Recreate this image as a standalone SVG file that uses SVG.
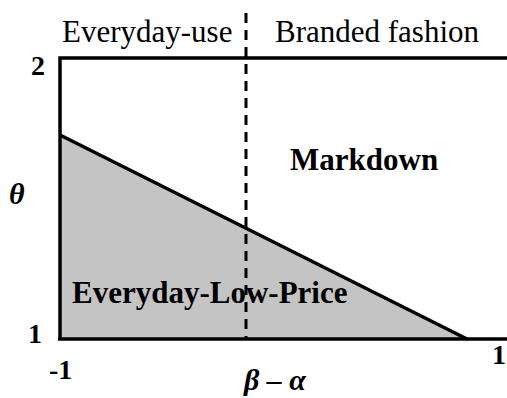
<svg xmlns="http://www.w3.org/2000/svg" width="507" height="398" viewBox="0 0 507 398">
<style>
text{fill:#000}
.lab{font-size:31px}
.reg{font-size:31px;font-weight:bold}
.num{font-size:28px;font-weight:bold}
.var{font-size:30px;font-weight:bold;font-style:italic}
</style>
<rect width="507" height="398" fill="#fff"/>
<g id="region-edlp">
<polygon points="60,135 467,339 60,339" fill="#c4c4c4"/>
</g>
<g id="frame">
<polyline points="60,339 60,58 508,58" fill="none" stroke="#000" stroke-width="3.5"/>
<line x1="58" y1="339" x2="508" y2="339" stroke="#000" stroke-width="3.5"/>
</g>
<g id="connectors">
<line x1="60" y1="135" x2="467" y2="339" stroke="#000" stroke-width="3.5"/>
<line x1="246" y1="13" x2="246" y2="339" stroke="#000" stroke-width="3" stroke-dasharray="10 7"/>
</g>
<g id="labels" font-family="'Liberation Serif', 'Times New Roman', Times, serif">
<text class="lab" x="62" y="42">Everyday-use</text>
<text class="lab" x="275" y="42">Branded fashion</text>
<text class="reg" x="290" y="170">Markdown</text>
<text class="reg" x="72" y="303">Everyday-Low-Price</text>
<text class="num" x="31" y="75">2</text>
<text class="num" x="28" y="343">1</text>
<text class="num" x="49" y="379">-1</text>
<text class="num" x="492" y="364">1</text>
<text class="var" x="9" y="204">θ</text>
<text class="var" x="244" y="390">β – α</text>
</g>
</svg>
